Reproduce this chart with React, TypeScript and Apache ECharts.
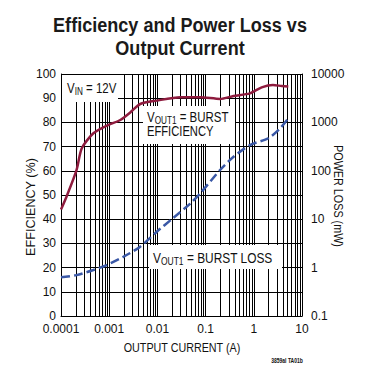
import React, { useEffect, useRef } from "react";
import * as echarts from "echarts";

const FONT = "'Liberation Sans', Arial, Helvetica, sans-serif";

const titleLines = ["Efficiency and Power Loss vs", "Output Current"];

// Efficiency curve (A, %)
const currentEff = [0.0001, 0.00013, 0.00021, 0.00027, 0.00047, 0.00095, 0.0017, 0.0027, 0.0044, 0.0097, 0.03, 0.077, 0.2, 0.38, 0.83, 1.46, 2.5, 3.8, 5.2];
const efficiency = [44, 49.3, 60.3, 69.3, 75.5, 78.9, 81, 84, 87.6, 89, 90.4, 90.4, 89.7, 90.9, 92, 94.5, 95.5, 95, 94.8];

// Power loss curve (A, mW)
const currentLoss = [0.0001, 0.00021, 0.00047, 0.00089, 0.002, 0.0044, 0.0097, 0.021, 0.048, 0.077, 0.2, 0.38, 0.83, 2.0, 3.5, 5.2];
const powerLoss = [0.63, 0.7, 0.89, 1.13, 1.68, 2.7, 5.5, 10.5, 21, 34, 104, 195, 340, 470, 750, 1220];

// Minor vertical grid (2..9 per decade)
const decades = [0.0001, 0.001, 0.01, 0.1, 1];
const minorMultipliers = [2, 3, 4, 5, 6, 7, 8, 9];

const fmt = (v: number) => String(parseFloat(Number(v).toPrecision(6)));

export default function App() {
  const ref = useRef<HTMLDivElement>(null);
  useEffect(() => {
    if (!ref.current) return;
    const chart = echarts.init(ref.current, null, { renderer: "svg" });
    const minorData: number[][] = [];
    decades.forEach((d) => minorMultipliers.forEach((m) => minorData.push([d * m, 0])));
    const rich = {
      v: { fontFamily: FONT, fontSize: 14, lineHeight: 16, fill: "#111" },
      s: { fontFamily: FONT, fontSize: 10, lineHeight: 10, padding: [8, 0, 0, 0], fill: "#111" },
    } as any;
    const txt = (x: number, y: number, text: string, size: number, sx: number, extra: any = {}) => ({
      type: "text",
      z: 11,
      x,
      y,
      scaleX: sx,
      rotation: extra.rotation || 0,
      style: {
        text,
        font: `${extra.bold ? "bold " : ""}${size}px ${FONT}`,
        fill: extra.fill || "#111",
        textAlign: extra.align || "left",
        textVerticalAlign: "middle",
      },
    });
    chart.setOption({
      animation: false,
      textStyle: { fontFamily: FONT },
      grid: { left: 61, top: 74, right: 70, bottom: 58, containLabel: false },
      xAxis: {
        type: "log",
        logBase: 10,
        min: 0.0001,
        max: 10,
        axisLine: { show: true, lineStyle: { color: "#000", width: 1 } },
        axisTick: { show: false },
        splitLine: { show: true, lineStyle: { color: "#000", width: 1 } },
        axisLabel: { color: "#111", fontSize: 12, margin: 7, formatter: fmt, fontFamily: FONT },
      },
      yAxis: [
        {
          type: "value",
          min: 0,
          max: 100,
          interval: 10,
          axisLine: { show: true, lineStyle: { color: "#000", width: 1 } },
          axisTick: { show: false },
          splitLine: { show: true, lineStyle: { color: "#000", width: 1 } },
          axisLabel: { color: "#111", fontSize: 12, margin: 5, fontFamily: FONT },
        },
        {
          type: "log",
          logBase: 10,
          min: 0.1,
          max: 10000,
          position: "right",
          axisLine: { show: true, lineStyle: { color: "#000", width: 1 } },
          axisTick: { show: false },
          splitLine: { show: false },
          axisLabel: { color: "#111", fontSize: 12, margin: 9, formatter: fmt, fontFamily: FONT },
        },
      ],
      series: [
        {
          type: "custom",
          z: 1,
          silent: true,
          xAxisIndex: 0,
          yAxisIndex: 0,
          data: minorData,
          encode: { x: 0, y: 1 },
          renderItem: (params: any, api: any) => {
            const v = api.value(0);
            const p0 = api.coord([v, 0]);
            const p1 = api.coord([v, 100]);
            const x = Math.round(p0[0]) + 0.5;
            return {
              type: "line",
              shape: { x1: x, y1: p0[1], x2: x, y2: p1[1] },
              style: { stroke: "#000", lineWidth: 1 },
            };
          },
        },
        {
          type: "line",
          name: "Efficiency",
          z: 20,
          xAxisIndex: 0,
          yAxisIndex: 0,
          data: currentEff.map((c, i) => [c, efficiency[i]]),
          showSymbol: false,
          smooth: 0.25,
          lineStyle: { color: "#8e1b3e", width: 2.5 },
        },
        {
          type: "line",
          name: "Power Loss",
          z: 20,
          xAxisIndex: 0,
          yAxisIndex: 1,
          data: currentLoss.map((c, i) => [c, powerLoss[i]]),
          showSymbol: false,
          smooth: 0.25,
          lineStyle: { color: "#3a58a6", width: 2.5, type: [9, 4] },
        },
      ],
      graphic: [
        txt(180, 24, titleLines[0], 21, 0.86, { bold: true, align: "center", fill: "#1a1a1a" }),
        txt(180, 47, titleLines[1], 21, 0.86, { bold: true, align: "center", fill: "#1a1a1a" }),
        // annotation boxes
        { type: "rect", z: 10, shape: { x: 62, y: 75, width: 56, height: 27 }, style: { fill: "#fff" } },
        { type: "text", z: 11, x: 67, y: 88, scaleX: 0.82, style: { text: "{v|V}{s|IN}{v| = 12V}", rich, textVerticalAlign: "middle" } },
        { type: "rect", z: 10, shape: { x: 143, y: 106, width: 92, height: 38 }, style: { fill: "#fff" } },
        { type: "text", z: 11, x: 147, y: 117, scaleX: 0.82, style: { text: "{v|V}{s|OUT1}{v| = BURST}", rich, textVerticalAlign: "middle" } },
        txt(147, 132, "EFFICIENCY", 14, 0.8),
        { type: "rect", z: 10, shape: { x: 149, y: 245, width: 133, height: 24 }, style: { fill: "#fff" } },
        { type: "text", z: 11, x: 153, y: 258, scaleX: 0.85, style: { text: "{v|V}{s|OUT1}{v| = BURST LOSS}", rich, textVerticalAlign: "middle" } },
        // axis names
        txt(30, 207, "EFFICIENCY (%)", 13, 0.97, { rotation: Math.PI / 2, align: "center" }),
        txt(338, 196, "POWER LOSS (mW)", 12, 0.9, { rotation: -Math.PI / 2, align: "center" }),
        txt(182, 347, "OUTPUT CURRENT (A)", 12.5, 0.86, { align: "center" }),
        txt(287, 360, "3859al TA01b", 7, 0.72, { bold: true, align: "center" }),
      ],
    });
    return () => chart.dispose();
  }, []);
  return <div ref={ref} style={{ position: "fixed", left: 0, top: 0, width: 372, height: 374, background: "#fff" }} />;
}
